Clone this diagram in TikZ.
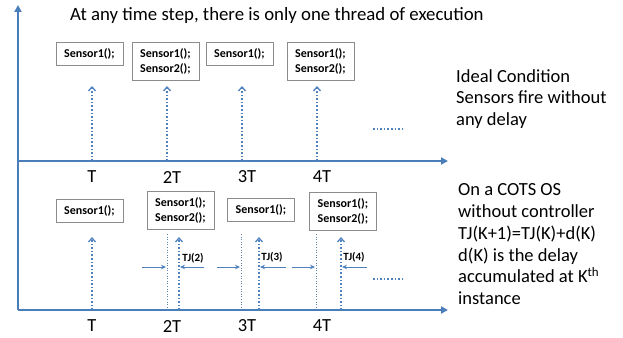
\documentclass[tikz,border=0pt]{standalone}
\usepackage{fontspec}
\setmainfont{Carlito}
\usetikzlibrary{arrows.meta}
\definecolor{axblue}{HTML}{4A7EBB}
\definecolor{arblue}{HTML}{4F81BD}
\definecolor{boxgray}{HTML}{8C8C8C}
\tikzset{
  axis/.style={draw=axblue, line width=2.4pt, -{Triangle[length=7pt,width=7pt]}},
  fire/.style={draw=arblue, line width=1.6pt, dotted, -{Straight Barb[length=4pt,width=7pt,line width=1.3pt]}},
  tick/.style={draw=arblue!70!gray, line width=0.6pt, dotted},
  jit/.style={draw=arblue, line width=0.9pt, -{Stealth[length=5pt,width=4.5pt]}},
  more/.style={draw=arblue, line width=1.6pt, dotted},
  sbox/.style={draw=boxgray, line width=0.8pt, fill=white, align=center, inner sep=0pt,
     minimum width=67pt, font=\fontsize{12}{15}\selectfont\bfseries},
  one/.style={sbox, minimum height=23pt},
  two/.style={sbox, minimum height=38pt},
  tlab/.style={font=\fontsize{18.5}{20}\selectfont},
  tj/.style={font=\fontsize{11}{12}\selectfont\bfseries, inner sep=0pt},
  note/.style={align=left, inner sep=0pt, anchor=north west, font=\fontsize{18.5}{21.8}\selectfont},
}
\begin{document}
\begin{tikzpicture}[x=1pt,y=-1pt]
\useasboundingbox (0,0) rectangle (623,337);
% axes
\coordinate (org) at (18,310);
\coordinate (ytop) at (18,5);
\coordinate (xend2) at (448,310);
\coordinate (org1) at (18,161);
\coordinate (xend1) at (448,161);
\draw[axis] (org) -- (ytop);
\draw[axis] (org1) -- (xend1);
\draw[axis] (org) -- (xend2);

% title
\node[anchor=west, inner sep=0pt, font=\fontsize{18.8}{22}\selectfont] (title) at (70,15) {At any time step, there is only one thread of execution};

% top row boxes
\node[one] (a1) at (89.5,53.5) {Sensor1();};
\node[two] (a2) at (165.5,61) {Sensor1();\\Sensor2();};
\node[one] (a3) at (239.5,53.5) {Sensor1();};
\node[two] (a4) at (320.5,61) {Sensor1();\\Sensor2();};

% top row fire arrows
\foreach \i/\x in {1/92,2/167,3/242,4/317}{
  \coordinate (tb\i) at (\x,161);
  \coordinate (tt\i) at (\x,86);
  \draw[fire] (tb\i) -- (tt\i);
}
\coordinate (md1a) at (373,129);
\coordinate (md1b) at (404,129);
\draw[more] (md1a) -- (md1b);

% top labels
\node[tlab] (l1) at (92,177) {T};
\node[tlab] (l2) at (172,177) {2T};
\node[tlab] (l3) at (247,177) {3T};
\node[tlab] (l4) at (322,177) {4T};

% right notes
\node[note] (n1) at (456,69) {Ideal Condition\\Sensors fire without\\any delay};
\node[note] (n2) at (458,183.5) {On a COTS OS\\without controller\\TJ(K+1)=TJ(K)+d(K)\\d(K) is the delay\\accumulated at K\textsuperscript{th}\\instance};

% bottom row boxes
\node[one] (b1) at (89.5,210.5) {Sensor1();};
\node[two] (b2) at (180.5,210.5) {Sensor1();\\Sensor2();};
\node[one] (b3) at (261,210) {Sensor1();};
\node[two] (b4) at (343,211) {Sensor1();\\Sensor2();};

% ideal ticks
\foreach \i/\x in {2/167,3/241,4/316}{
  \coordinate (kt\i) at (\x,234);
  \coordinate (kb\i) at (\x,310);
  \draw[tick] (kt\i) -- (kb\i);
}
% delayed fire arrows
\foreach \i/\x in {1/92,2/179,3/259,4/341}{
  \coordinate (bb\i) at (\x,310);
  \coordinate (bt\i) at (\x,237);
  \draw[fire] (bb\i) -- (bt\i);
}
% jitter arrows
\foreach \i/\a/\b/\c/\d in {2/142/166/204/180, 3/217/240/286/260, 4/292/315/367/342}{
  \coordinate (ja\i) at (\a,267);
  \coordinate (jb\i) at (\b,267);
  \coordinate (jc\i) at (\c,267);
  \coordinate (jd\i) at (\d,267);
  \draw[jit] (ja\i) -- (jb\i);
  \draw[jit] (jc\i) -- (jd\i);
}
\node[tj] (tj2) at (193,258) {TJ(2)};
\node[tj] (tj3) at (272,257) {TJ(3)};
\node[tj] (tj4) at (354,257) {TJ(4)};

\coordinate (md2a) at (373,279);
\coordinate (md2b) at (404,279);
\draw[more] (md2a) -- (md2b);

% bottom labels
\node[tlab] (m1) at (92,326) {T};
\node[tlab] (m2) at (172,326) {2T};
\node[tlab] (m3) at (247,326) {3T};
\node[tlab] (m4) at (322,326) {4T};
\end{tikzpicture}
\end{document}
